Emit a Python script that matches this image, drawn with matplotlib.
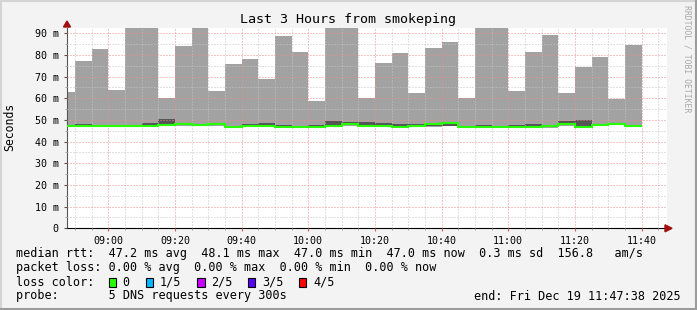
import numpy as np
import matplotlib
matplotlib.use("Agg")
import matplotlib.pyplot as plt
from matplotlib.patches import Rectangle, Polygon
from matplotlib.lines import Line2D
from matplotlib.ticker import FixedLocator, FuncFormatter

# ---- data (minutes since midnight; 5-minute steps) ----
start_min = 8 * 60 + 47 + 38 / 60.0     # 08:47:38
end_min = 11 * 60 + 47 + 38 / 60.0      # 11:47:38
first_step = 8 * 60 + 50                # 08:50
step = 5

max_rtt = [62.9, 77.2, 82.7, 63.8, 95.0, 95.0, 60.0, 84.1, 95.0, 63.4,
           75.8, 78.2, 68.9, 88.7, 81.3, 58.7, 95.0, 95.0, 60.1, 76.4,
           81.0, 62.6, 83.2, 86.0, 60.1, 95.0, 95.0, 63.5, 81.5, 89.3,
           62.6, 74.6, 79.1, 59.8, 84.7]
median_rtt = [47.1, 47.1, 47.1, 47.1, 47.1, 47.1, 47.5, 47.9, 47.5, 47.9,
              46.9, 47.1, 47.1, 46.9, 46.8, 46.9, 47.4, 47.9, 47.0, 47.1,
              46.9, 47.1, 47.9, 48.5, 46.9, 46.9, 46.9, 46.9, 46.9, 47.4,
              48.0, 46.9, 47.5, 48.1, 47.0]
dark_hi = [47.6, 48.1, 47.3, 47.3, 47.3, 48.6, 50.4, 48.6, 47.6, 48.0,
           47.0, 48.0, 48.6, 47.7, 46.9, 47.7, 49.5, 49.2, 49.0, 48.7,
           47.9, 48.3, 47.9, 48.5, 47.4, 47.6, 47.4, 47.5, 48.1, 47.4,
           49.5, 50.0, 48.1, 48.6, 47.0]
dark_lo = [46.9, 46.9, 46.9, 46.9, 46.9, 46.9, 47.2, 47.5, 47.3, 47.5,
           46.7, 46.9, 46.9, 46.7, 46.6, 46.7, 47.1, 47.5, 46.8, 46.9,
           46.7, 46.9, 47.0, 47.4, 46.7, 46.7, 46.7, 46.7, 46.7, 46.5,
           47.6, 46.7, 47.2, 47.7, 46.8]
min_rtt = [46.8, 46.8, 46.8, 46.8, 46.8, 46.8, 47.0, 47.3, 47.1, 47.3,
           46.6, 46.8, 46.8, 46.6, 46.5, 46.6, 47.0, 47.3, 46.7, 46.8,
           46.6, 46.8, 46.9, 47.2, 46.6, 46.6, 46.6, 46.4, 46.5, 46.4,
           47.4, 46.6, 47.0, 47.5, 46.7]

major_ticks = [540, 560, 580, 600, 620, 640, 660, 680, 700]
y_major = [0, 10, 20, 30, 40, 50, 60, 70, 80, 90]

stats_line1 = "median rtt:  47.2 ms avg  48.1 ms max  47.0 ms min  47.0 ms now  0.3 ms sd  156.8   am/s"
stats_line2 = "packet loss: 0.00 % avg  0.00 % max  0.00 % min  0.00 % now"
loss_labels = ["0", "1/5", "2/5", "3/5", "4/5"]
loss_colors = ["#26ff00", "#00b8ff", "#c800ff", "#5a00ff", "#ff0000"]
probe_line = "probe:       5 DNS requests every 300s"
end_line = "end: Fri Dec 19 11:47:38 2025"

# ---- figure ----
W, H = 697, 310
fig = plt.figure(figsize=(W / 100, H / 100), dpi=100)
fig.patch.set_facecolor("#f3f3f3")
mono = "DejaVu Sans Mono"

def fx(px):
    return px / W

def fy(py):
    return 1 - py / H

L, R, T, B = 67, 667, 28, 228.3
ax = fig.add_axes([fx(L), fy(B), fx(R) - fx(L), fy(T) - fy(B)])
ax.set_facecolor("white")

n = len(max_rtt)
edges = np.concatenate([[start_min], first_step + step * np.arange(n)])
max_arr = np.array(max_rtt)
ax.stairs(max_arr, edges, baseline=np.array(min_rtt), fill=True,
          color="#a2a2a2", linewidth=0, zorder=1)
ax.stairs(np.array(dark_hi), edges, baseline=np.array(dark_lo), fill=True,
          color="#555555", linewidth=0, zorder=1.2)
ax.stairs(np.array(median_rtt), edges, fill=False, color="#26ff00",
          linewidth=1.5, zorder=3, baseline=None)

ax.set_xlim(start_min, end_min)
ax.set_ylim(0, 92.4)

ax.xaxis.set_major_locator(FixedLocator(major_ticks))
ax.xaxis.set_minor_locator(FixedLocator(list(np.arange(530, 710, 5))))
ax.xaxis.set_major_formatter(FuncFormatter(lambda v, p: f"{int(v)//60:02d}:{int(v)%60:02d}"))
ax.yaxis.set_major_locator(FixedLocator(y_major))
ax.yaxis.set_minor_locator(FixedLocator(list(np.arange(5, 95, 10))))
ax.yaxis.set_major_formatter(FuncFormatter(lambda v, p: "0" if v == 0 else f"{int(v)} m"))

ax.set_axisbelow(False)
ax.grid(which="minor", color="#c4c4c4", linestyle=(0, (1, 2)), linewidth=0.72)
ax.grid(which="major", color="#f08c8c", linestyle=(0, (1, 2)), linewidth=0.72)

for sp in ["top", "right"]:
    ax.spines[sp].set_visible(False)
ax.spines["left"].set_color("#555555")
ax.spines["bottom"].set_color("black")
ax.spines["left"].set_linewidth(0.8)
ax.spines["bottom"].set_linewidth(0.8)

ax.tick_params(axis="both", which="major", labelsize=7.2, direction="out")
ax.tick_params(axis="x", which="major", length=2.5, color="#d06060", pad=3)
ax.tick_params(axis="x", which="minor", length=1.5, color="#999999")
ax.tick_params(axis="y", which="major", length=2.5, color="#555555", pad=3.5)
ax.tick_params(axis="y", which="minor", length=1.5, color="#999999")
for lab in ax.get_xticklabels() + ax.get_yticklabels():
    lab.set_fontfamily(mono)

# axis arrows
fig.patches.append(Polygon([[fx(R - 2), fy(B - 3.5)], [fx(R - 2), fy(B + 3.5)], [fx(R + 5), fy(B)]],
                           closed=True, transform=fig.transFigure, color="#a01010"))
fig.patches.append(Polygon([[fx(L - 3.5), fy(T - 1)], [fx(L + 3.5), fy(T - 1)], [fx(L), fy(T - 7)]],
                           closed=True, transform=fig.transFigure, color="#a01010"))

# texts
fig.text(fx(348), fy(19), "Last 3 Hours from smokeping", ha="center", va="center",
         fontsize=9.6, family=mono)
fig.text(fx(10), fy(127), "Seconds", rotation=90, ha="center", va="center",
         fontsize=8.3, family=mono)
fig.text(fx(687), fy(5), "RRDTOOL / TOBI OETIKER", rotation=270, ha="center", va="top",
         fontsize=5.9, family=mono, color="#a8a8a8")

fig.text(fx(16), fy(254), stats_line1, ha="left", va="center", fontsize=8.5, family=mono)
fig.text(fx(16), fy(268), stats_line2, ha="left", va="center", fontsize=8.5, family=mono)
fig.text(fx(16), fy(282), "loss color:", ha="left", va="center", fontsize=8.5, family=mono)
box_x = [108.6, 145.6, 197.0, 247.5, 298.5]
lab_x = [122.5, 159.8, 211.0, 261.8, 313.0]
for bx, lx, lab, col in zip(box_x, lab_x, loss_labels, loss_colors):
    fig.patches.append(Rectangle((fx(bx), fy(286.5)), 7.5 / W, 9 / H, transform=fig.transFigure,
                                 facecolor=col, edgecolor="black", linewidth=0.8))
    fig.text(fx(lx), fy(282), lab, ha="left", va="center", fontsize=8.5, family=mono)
fig.text(fx(16), fy(296), probe_line, ha="left", va="center", fontsize=8.5, family=mono)
fig.text(fx(681), fy(296), end_line, ha="right", va="center", fontsize=8.5, family=mono)

# 3D border
def fline(x0, y0, x1, y1, c, lw):
    fig.lines.append(Line2D([fx(x0), fx(x1)], [fy(y0), fy(y1)], transform=fig.transFigure,
                            color=c, linewidth=lw, solid_capstyle="butt"))

fline(0, 1, W, 1, "#d4d4d4", 1.5)
fline(1, 0, 1, H, "#d4d4d4", 1.5)
fline(0, H - 1, W, H - 1, "#9c9c9c", 1.5)
fline(W - 1, 0, W - 1, H, "#9c9c9c", 1.5)

fig.savefig("out.png", dpi=100, facecolor=fig.get_facecolor())
